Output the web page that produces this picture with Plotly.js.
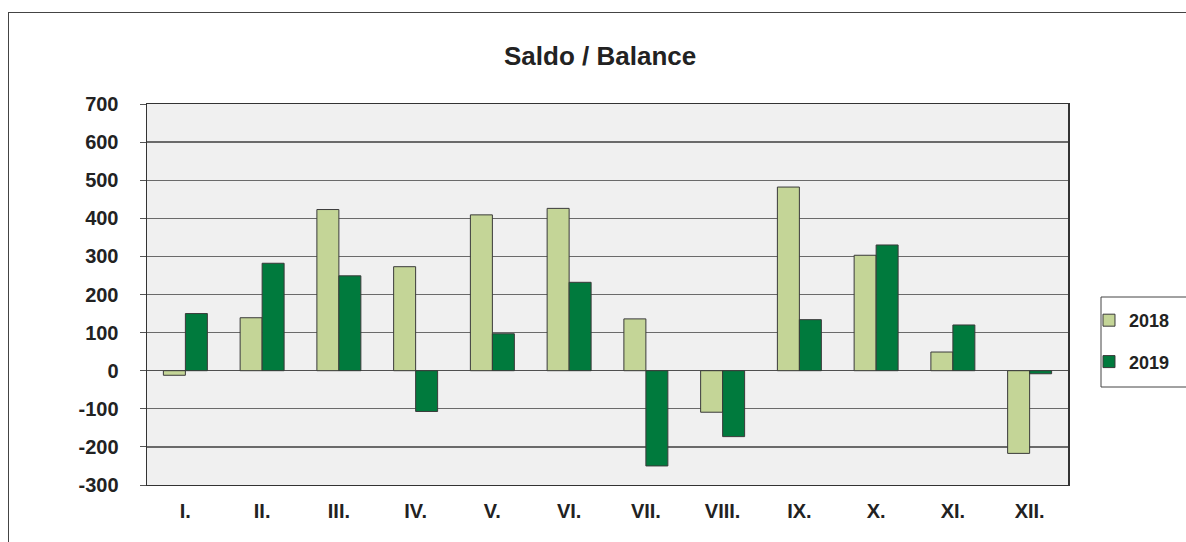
<!DOCTYPE html>
<html><head><meta charset="utf-8">
<script src="https://cdn.plot.ly/plotly-3.0.1.min.js"></script>
<style>
html,body{margin:0;padding:0;overflow:hidden;background:#fff;}
#chart{width:1186px;height:542px;position:absolute;left:0;top:0;}
#frame{position:absolute;left:8px;top:12px;width:1300px;height:700px;border-left:1px solid #444;border-top:1px solid #444;pointer-events:none;}
</style></head>
<body>
<div id="chart"></div>
<div id="frame"></div>
<script>
const months = ["I.","II.","III.","IV.","V.","VI.","VII.","VIII.","IX.","X.","XI.","XII."];
const values2018 = [-12, 139, 423, 273, 409, 426, 136, -109, 482, 303, 49, -217];
const values2019 = [150, 282, 249, -107, 97, 232, -250, -173, 134, 330, 120, -8];
const seriesNames = ["2018","2019"];
const tickVals = [-300,-200,-100,0,100,200,300,400,500,600,700];

const fam = "Liberation Sans, Arial, sans-serif";
const traces = [
  {type:"bar", name:seriesNames[0], x:months, y:values2018, legendgroup:"a",
   marker:{color:"#c4d597", line:{color:"#3a3a3a", width:1}}},
  {type:"bar", name:seriesNames[1], x:months, y:values2019, legendgroup:"b",
   marker:{color:"#007a3d", line:{color:"#3a3a3a", width:1}}}
];
const layout = {
  width:1186, height:542,
  margin:{l:147, r:118, t:104, b:57, autoexpand:false},
  paper_bgcolor:"#fff", plot_bgcolor:"#f0f0f0",
  font:{family:fam, size:16, color:"#222"},
  title:{text:"<b>Saldo / Balance</b>", x:0.506, xanchor:"center", y:0.897, yanchor:"middle",
         font:{family:fam, size:26, color:"#222"}},
  barmode:"group", bargap:0.427, bargroupgap:0,
  showlegend:true,
  legend:{x:1.0228, xanchor:"left", y:0.378, yanchor:"middle",
          borderwidth:0, bgcolor:"rgba(0,0,0,0)",
          traceorder:"grouped", tracegroupgap:15, itemwidth:30,
          font:{family:fam, size:18, color:"#222", weight:"bold"}},
  shapes:[{type:"rect", xref:"paper", yref:"paper",
           x0:(1101-147)/921, x1:(1190-147)/921, y0:(485-387)/381, y1:(485-297)/381,
           line:{color:"#444", width:1}, fillcolor:"#fff", layer:"below"}],
  xaxis:{tickfont:{family:fam, size:20, color:"#222", weight:"bold"},
         showline:true, linecolor:"#333", linewidth:1, mirror:true,
         ticks:"", showgrid:false, fixedrange:true, ticklabelstandoff:8},
  yaxis:{range:[-300,700], tickvals:tickVals, ticktext:tickVals.map(String),
         tickfont:{family:fam, size:20, color:"#222", weight:"bold"},
         showline:true, linecolor:"#333", linewidth:1.5, mirror:true,
         ticks:"outside", ticklen:6, tickcolor:"#555", ticklabelstandoff:17,
         gridcolor:"#6a6a6a", gridwidth:1.3, zeroline:true, zerolinecolor:"#505050", zerolinewidth:1.3,
         fixedrange:true}
};
Plotly.newPlot("chart", traces, layout, {displayModeBar:false, staticPlot:true});
</script>
</body></html>
